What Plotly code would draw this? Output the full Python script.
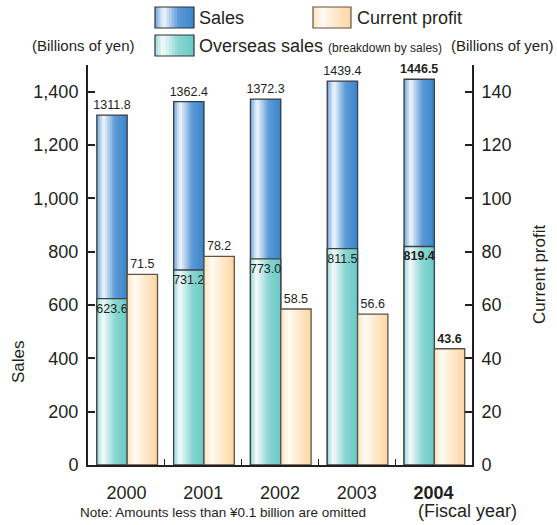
import plotly.graph_objects as go

# ---------------- data ----------------
year_labels = ["2000", "2001", "2002", "2003", "<b>2004</b>"]
sales = [1311.8, 1362.4, 1372.3, 1439.4, 1446.5]
overseas = [623.6, 731.2, 773.0, 811.5, 819.4]
profit = [71.5, 78.2, 58.5, 56.6, 43.6]
sales_text = ["1311.8", "1362.4", "1372.3", "1439.4", "<b>1446.5</b>"]
overseas_text = ["623.6", "731.2", "773.0", "811.5", "<b>819.4</b>"]
profit_text = ["71.5", "78.2", "58.5", "56.6", "<b>43.6</b>"]
left_ticks = [0, 200, 400, 600, 800, 1000, 1200, 1400, 1500]
left_ticktext = ["0", "200", "400", "600", "800", "1,000", "1,200", "1,400", ""]
right_ticks = [0, 20, 40, 60, 80, 100, 120, 140, 150]
right_ticktext = ["0", "20", "40", "60", "80", "100", "120", "140", ""]

# ---------------- styling ----------------
FONT = "Liberation Sans, Arial, sans-serif"
INK = "#231f20"
W, H = 557, 525
ML, MR, MT, MB = 88, 85, 65, 60
PW, PH = W - ML - MR, H - MT - MB

SALES_STOPS = [(0.0, "#6ea5dc"), (0.22, "#f2f7fd"), (0.6, "#5c9ad6"), (1.0, "#3a86cb")]
OVER_STOPS = [(0.0, "#98dbd8"), (0.2, "#f4fbfb"), (0.6, "#8ad6d3"), (1.0, "#68c9c6")]
PROF_STOPS = [(0.0, "#fde2c0"), (0.25, "#fffbf4"), (0.6, "#fee8c9"), (1.0, "#fbd7a6")]


def hex2rgb(h):
    h = h.lstrip("#")
    return tuple(int(h[i:i + 2], 16) for i in (0, 2, 4))


def interp(stops, t):
    for (t0, c0), (t1, c1) in zip(stops[:-1], stops[1:]):
        if t0 <= t <= t1:
            f = (t - t0) / (t1 - t0) if t1 > t0 else 0
            a, b = hex2rgb(c0), hex2rgb(c1)
            return "rgb(%d,%d,%d)" % tuple(round(a[k] + (b[k] - a[k]) * f) for k in range(3))
    return stops[-1][1]


fig = go.Figure()
N = 18
BW = 0.395
SALES_OFF = -0.385
PROF_OFF = 0.01


def gradient_bars(y, off, stops, yaxis):
    for i in range(N):
        t = (i + 0.5) / N
        w = BW / N * (1.6 if i < N - 1 else 1.0)
        fig.add_trace(go.Bar(
            x=year_labels, y=y, width=[w] * len(y), offset=off + i * BW / N,
            marker=dict(color=interp(stops, t), line=dict(width=0)),
            yaxis=yaxis, showlegend=False, hoverinfo="skip"))


def outline(y, off, color, yaxis, text, pos, name):
    fig.add_trace(go.Bar(
        x=year_labels, y=y, width=[BW] * len(y), offset=off, name=name,
        marker=dict(color="rgba(0,0,0,0)", line=dict(color=color, width=1.3)),
        text=text, textposition=pos, insidetextanchor="end", textangle=0,
        constraintext="none", cliponaxis=False,
        textfont=dict(family=FONT, size=12.5, color=INK),
        yaxis=yaxis, showlegend=False))


gradient_bars(sales, SALES_OFF, SALES_STOPS, "y")
outline(sales, SALES_OFF, "#3a3d42", "y", sales_text, "outside", "Sales")
gradient_bars(overseas, SALES_OFF, OVER_STOPS, "y")
outline(overseas, SALES_OFF, "#3a4244", "y", overseas_text, "inside", "Overseas sales")
gradient_bars(profit, PROF_OFF, PROF_STOPS, "y2")
outline(profit, PROF_OFF, "#5e5243", "y2", profit_text, "outside", "Current profit")

axis_common = dict(showline=True, linewidth=2, linecolor=INK, ticks="inside",
                   tickcolor=INK, showgrid=False, zeroline=False, automargin=False,
                   tickfont=dict(family=FONT, size=18, color=INK))

fig.update_layout(
    width=W, height=H, margin=dict(l=ML, r=MR, t=MT, b=MB, autoexpand=False),
    paper_bgcolor="white", plot_bgcolor="white",
    barmode="overlay", showlegend=False,
    font=dict(family=FONT, color=INK),
    xaxis=dict(type="category", categoryorder="array", categoryarray=year_labels,
               range=[-0.5, 4.5], tickson="boundaries", ticklen=6, tickwidth=1.3,
               ticklabelstandoff=10, **axis_common),
    yaxis=dict(range=[0, 1500], tickmode="array", tickvals=left_ticks,
               ticktext=left_ticktext, ticklen=7, tickwidth=1.5,
               ticklabelstandoff=4, **axis_common),
    yaxis2=dict(range=[0, 150], tickmode="array", tickvals=right_ticks,
                ticktext=right_ticktext, ticklen=7, tickwidth=1.5,
                overlaying="y", side="right", ticklabelstandoff=4, **axis_common),
)


def px2x(px):
    return (px - ML) / PW


def py2y(py):
    return (H - MB - py) / PH


def ann(text, x, y, size, xanchor="left", yanchor="middle", angle=0):
    fig.add_annotation(text=text, x=px2x(x), y=py2y(y), xref="paper", yref="paper",
                       xanchor=xanchor, yanchor=yanchor, showarrow=False, textangle=angle,
                       font=dict(family=FONT, size=size, color=INK))


def swatch(x0, y0, x1, y1, stops, border):
    n = 14
    for i in range(n):
        t = (i + 0.5) / n
        a = x0 + (x1 - x0) * i / n
        b = x0 + (x1 - x0) * (i + 1.5) / n if i < n - 1 else x1
        fig.add_shape(type="rect", xref="paper", yref="paper",
                      x0=px2x(a), x1=px2x(b), y0=py2y(y1), y1=py2y(y0),
                      fillcolor=interp(stops, t), line=dict(width=0))
    fig.add_shape(type="rect", xref="paper", yref="paper",
                  x0=px2x(x0), x1=px2x(x1), y0=py2y(y1), y1=py2y(y0),
                  line=dict(color=border, width=1.2))


# legend
swatch(155, 7, 194, 28, SALES_STOPS, "#333")
swatch(313, 7, 351, 28, PROF_STOPS, "#5e5243")
swatch(155, 35, 194, 56, OVER_STOPS, "#333")
ann("Sales", 197, 18, 18)
ann("Current profit", 355, 18, 18)
ann("Overseas sales <span style='font-size:12px'>(breakdown by sales)</span>", 197, 46, 18)
ann("(Billions of yen)", 30, 46, 15)
ann("(Billions of yen)", 556, 46, 15, xanchor="right")

# axis titles
ann("Sales", 18, 362, 17, xanchor="center", angle=-90)
ann("Current profit", 539, 275, 17, xanchor="center", angle=-90)

# footer
ann("Note: Amounts less than ¥0.1 billion are omitted", 78, 512, 13.5)
ann("(Fiscal year)", 416, 511, 18)

fig.write_html(
    "out.html",
    config={"displayModeBar": False},
    post_script="document.body.style.margin='0';document.body.style.overflow='hidden';",
)
